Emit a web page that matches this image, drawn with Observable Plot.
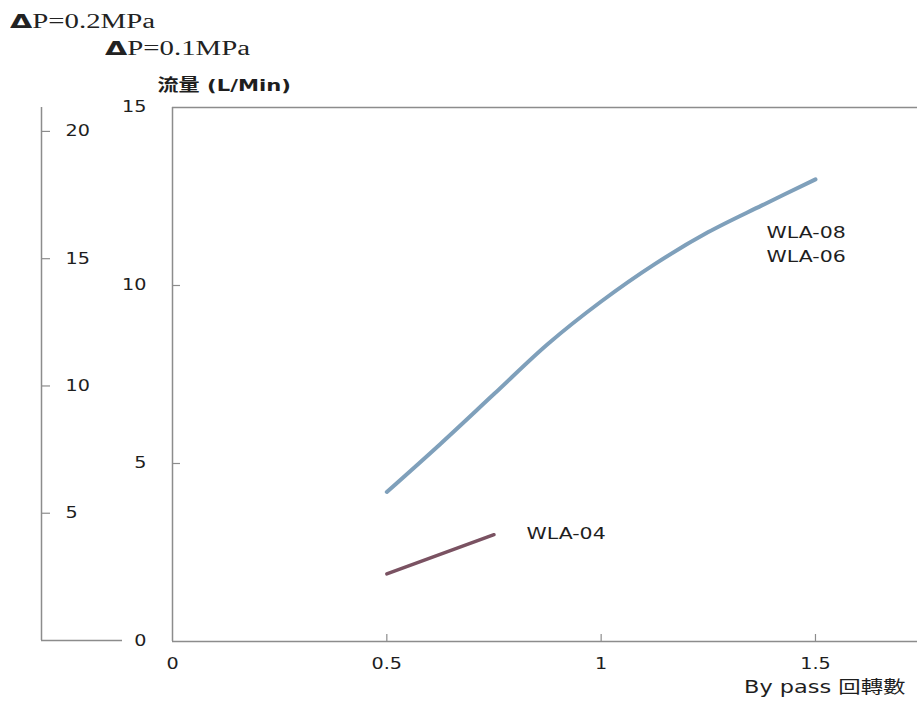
<!DOCTYPE html>
<html>
<head>
<meta charset="utf-8">
<script src="https://cdn.jsdelivr.net/npm/d3@7"></script>
<script src="https://cdn.jsdelivr.net/npm/@observablehq/plot@0.6"></script>
<style>
  html, body { margin: 0; padding: 0; background: #fff; }
  #wrap { position: relative; width: 917px; height: 705px; overflow: hidden; }
  .dp { position: absolute; font-family: "Liberation Serif", serif; font-size: 20px; line-height: 20px; color: #222; transform: scaleX(1.44); transform-origin: left center; white-space: nowrap; }
  .dp b { font-family: "DejaVu Sans", sans-serif; font-weight: bold; }
  #header { position: absolute; left: 0; top: 0; width: 917px; height: 60px; }
  #chart { position: absolute; left: 0; top: 60px; width: 917px; height: 645px; }
  #chart svg { position: absolute; left: 0; top: 0; }
</style>
</head>
<body>
<div id="wrap">
  <div id="header">
    <div class="dp" id="dp1" style="left:10px; top:11px;"></div>
    <div class="dp" id="dp2" style="left:105px; top:38px;"></div>
  </div>
  <div id="chart"></div>
</div>
<script>
// ---- data ----
const pressureLabels = ["P=0.2MPa", "P=0.1MPa"];
const yLabel = "流量 (L/Min)";
const xLabel = "By pass 回轉數";

const xTicks = [0, 0.5, 1, 1.5];
const yTicksInner = [0, 5, 10, 15];
const yTicksOuter = [5, 10, 15, 20];

const wla0806X = [0.5, 0.625, 0.75, 0.875, 1.0, 1.125, 1.25, 1.375, 1.5];
const wla0806Y = [4.2, 5.55, 6.95, 8.35, 9.55, 10.6, 11.5, 12.25, 12.98];
const wla04X = [0.5, 0.75];
const wla04Y = [1.9, 3.0];

const seriesLabels = ["WLA-08\nWLA-06", "WLA-04"];
const labelX = [1.386, 0.826];
const labelY = [11.2, 3.1];

// ---- header ----
document.getElementById("dp1").innerHTML = "<b>Δ</b>" + pressureLabels[0];
document.getElementById("dp2").innerHTML = "<b>Δ</b>" + pressureLabels[1];

const lineA = wla0806X.map((x, i) => ({x, y: wla0806Y[i]}));
const lineB = wla04X.map((x, i) => ({x, y: wla04Y[i]}));
const labels = seriesLabels.map((t, i) => ({t, x: labelX[i], y: labelY[i]}));

const axisColor = "#8c8c8c";
const textColor = "#1e1e1e";
const fontStyle = {fontFamily: "'DejaVu Sans', 'Noto Sans CJK TC', sans-serif", fontSize: "15px", color: textColor, background: "transparent", overflow: "visible"};

const main = Plot.plot({
  width: 917,
  height: 645,
  marginLeft: 172,
  marginRight: 0,
  marginTop: 47,
  marginBottom: 64,
  style: fontStyle,
  x: {domain: [0, 1.738]},
  y: {domain: [0, 15]},
  marks: [
    Plot.ruleY([15], {stroke: axisColor, strokeWidth: 1.5}),
    Plot.ruleX([0], {stroke: axisColor, strokeWidth: 1.5}),
    Plot.ruleY([0], {stroke: axisColor, strokeWidth: 1.5}),
    // inward tick marks
    Plot.tickY(yTicksInner.slice(1, 3), {y: d => d, stroke: axisColor, strokeWidth: 1.2, insetRight: 737}),
    Plot.tickX(xTicks.slice(1), {x: d => d, stroke: axisColor, strokeWidth: 1.2, insetTop: 527}),
    Plot.axisY({anchor: "left", ticks: yTicksInner, tickSize: 0, tickPadding: 26, fill: textColor, label: null}),
    Plot.axisX({anchor: "bottom", ticks: xTicks, tickSize: 0, tickPadding: 17, fill: textColor, label: null, tickFormat: d => String(d)}),
    Plot.line(lineA, {x: "x", y: "y", stroke: "#7fa0bb", strokeWidth: 4, curve: "catmull-rom"}),
    Plot.line(lineB, {x: "x", y: "y", stroke: "#7a5262", strokeWidth: 3.5}),
    Plot.text(labels, {x: "x", y: "y", text: "t", textAnchor: "start", fill: textColor, fontSize: 16, lineHeight: 1.5}),
    Plot.text([yLabel], {frameAnchor: "top-left", dx: -15, dy: -28, textAnchor: "start", fill: textColor, fontWeight: 600, fontSize: 16.5}),
    Plot.text([xLabel], {frameAnchor: "bottom-right", dx: -12, dy: 51, textAnchor: "end", fill: textColor, fontSize: 17.5})
  ]
});

const outer = Plot.plot({
  width: 122,
  height: 645,
  marginLeft: 41,
  marginRight: 0,
  marginTop: 47,
  marginBottom: 65,
  style: fontStyle,
  x: {domain: [0, 1], axis: null},
  y: {domain: [0, 20.94]},
  marks: [
    Plot.ruleX([0], {stroke: axisColor, strokeWidth: 1.5}),
    Plot.ruleY([0], {stroke: axisColor, strokeWidth: 1.5}),
    Plot.tickY(yTicksOuter, {y: d => d, stroke: axisColor, strokeWidth: 1.2, insetRight: 72}),
    Plot.axisY({anchor: "left", ticks: yTicksOuter, tickSize: 0, tickPadding: -24, textAnchor: "start", fill: textColor, label: null})
  ]
});

const chart = document.getElementById("chart");
chart.appendChild(main);
chart.appendChild(outer);

// horizontal stretch of glyphs to match the reference's wide lettering
function stretch(root, k) {
  root.querySelectorAll("text").forEach(t => {
    const spans = t.querySelectorAll("tspan");
    const els = spans.length ? [...spans] : [t];
    els.forEach(e => {
      const w = e.getComputedTextLength();
      if (w > 0) {
        e.setAttribute("textLength", (w * k).toFixed(1));
        e.setAttribute("lengthAdjust", "spacingAndGlyphs");
      }
    });
  });
}
stretch(main, 1.28);
stretch(outer, 1.28);
</script>
</body>
</html>
